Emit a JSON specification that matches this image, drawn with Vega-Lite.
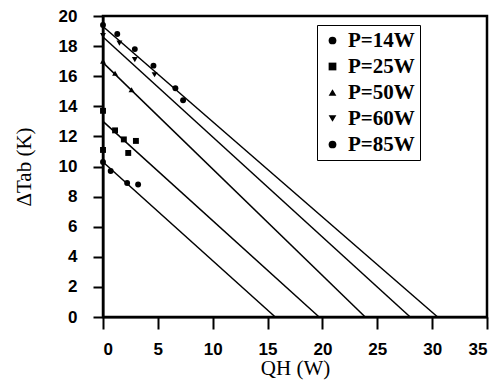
{
  "$schema": "https://vega.github.io/schema/vega-lite/v6.json",
  "autosize": "none",
  "width": 384,
  "height": 301,
  "padding": {"left": 103, "top": 16, "right": 10, "bottom": 74},
  "background": "white",
  "config": {
    "view": {"stroke": "black", "strokeWidth": 2.5},
    "legend": {"strokeColor": "black"}
  },
  "datasets": {
    "pts": [
      {"series": "P=14W", "Q": 0.0, "T": 10.3},
      {"series": "P=14W", "Q": 0.7, "T": 9.7},
      {"series": "P=14W", "Q": 2.2, "T": 8.9},
      {"series": "P=14W", "Q": 3.2, "T": 8.8},
      {"series": "P=25W", "Q": 0.0, "T": 13.7},
      {"series": "P=25W", "Q": 0.0, "T": 11.1},
      {"series": "P=25W", "Q": 1.1, "T": 12.4},
      {"series": "P=25W", "Q": 1.9, "T": 11.8},
      {"series": "P=25W", "Q": 3.0, "T": 11.7},
      {"series": "P=25W", "Q": 2.3, "T": 10.9},
      {"series": "P=50W", "Q": 0.0, "T": 17.0},
      {"series": "P=50W", "Q": 1.1, "T": 16.2},
      {"series": "P=50W", "Q": 2.6, "T": 15.1},
      {"series": "P=60W", "Q": 0.0, "T": 18.7},
      {"series": "P=60W", "Q": 1.5, "T": 18.2},
      {"series": "P=60W", "Q": 2.9, "T": 17.1},
      {"series": "P=60W", "Q": 4.7, "T": 16.1},
      {"series": "P=85W", "Q": 0.0, "T": 19.4},
      {"series": "P=85W", "Q": 1.3, "T": 18.8},
      {"series": "P=85W", "Q": 2.9, "T": 17.8},
      {"series": "P=85W", "Q": 4.6, "T": 16.7},
      {"series": "P=85W", "Q": 6.6, "T": 15.2},
      {"series": "P=85W", "Q": 7.3, "T": 14.4}
    ],
    "fits": [
      {"series": "P=14W", "Q": 0, "T": 10.3},
      {"series": "P=14W", "Q": 15.7, "T": 0},
      {"series": "P=25W", "Q": 0, "T": 13.0},
      {"series": "P=25W", "Q": 19.7, "T": 0},
      {"series": "P=50W", "Q": 0, "T": 16.9},
      {"series": "P=50W", "Q": 23.9, "T": 0},
      {"series": "P=60W", "Q": 0, "T": 18.6},
      {"series": "P=60W", "Q": 28.0, "T": 0},
      {"series": "P=85W", "Q": 0, "T": 19.3},
      {"series": "P=85W", "Q": 30.5, "T": 0}
    ],
    "yticks": [
      {"T": 0}, {"T": 2}, {"T": 4}, {"T": 6}, {"T": 8}, {"T": 10},
      {"T": 12}, {"T": 14}, {"T": 16}, {"T": 18}, {"T": 20}
    ],
    "xticks": [
      {"Q": 0}, {"Q": 5}, {"Q": 10}, {"Q": 15}, {"Q": 20}, {"Q": 25}, {"Q": 30}, {"Q": 35}
    ]
  },
  "encoding": {
    "x": {
      "field": "Q", "type": "quantitative",
      "scale": {"domain": [0, 35], "nice": false},
      "axis": {
        "tickCount": 7, "grid": false, "ticks": true, "labelOverlap": false,
        "domainColor": "black", "domainWidth": 2, "tickColor": "black", "tickWidth": 2, "tickSize": 12,
        "labelFont": "Liberation Sans", "labelFontWeight": "bold", "labelFontSize": 17, "labelColor": "black", "labelPadding": 12,
        "title": "QH (W)", "titleFont": "Liberation Serif", "titleFontWeight": "normal", "titleFontSize": 21, "titleColor": "black", "titlePadding": 0
      }
    },
    "y": {
      "field": "T", "type": "quantitative",
      "scale": {"domain": [0, 20], "nice": false},
      "axis": {
        "tickCount": 10, "grid": false, "ticks": true, "labelOverlap": false,
        "domainColor": "black", "domainWidth": 2, "tickColor": "black", "tickWidth": 2, "tickSize": 10,
        "labelFont": "Liberation Sans", "labelFontWeight": "bold", "labelFontSize": 17, "labelColor": "black", "labelPadding": 16,
        "title": "ΔTab (K)", "titleFont": "Liberation Serif", "titleFontWeight": "normal", "titleFontSize": 21, "titleColor": "black", "titlePadding": 24
      }
    }
  },
  "layer": [
    {
      "data": {"name": "yticks"},
      "mark": {"type": "tick", "orient": "horizontal", "color": "black", "size": 10, "thickness": 2.5, "xOffset": -5, "opacity": 1},
      "encoding": {
        "x": {"datum": 0, "type": "quantitative"}
      }
    },
    {
      "data": {"name": "xticks"},
      "mark": {"type": "tick", "orient": "vertical", "color": "black", "size": 12, "thickness": 2.5, "yOffset": 6, "opacity": 1},
      "encoding": {
        "y": {"datum": 0, "type": "quantitative"}
      }
    },
    {
      "data": {"name": "fits"},
      "mark": {"type": "line", "color": "black", "strokeWidth": 1.5},
      "encoding": {
        "detail": {"field": "series"}
      }
    },
    {
      "data": {"name": "pts"},
      "mark": {"type": "point", "filled": true, "color": "black", "opacity": 1, "size": 35},
      "encoding": {
        "shape": {
          "field": "series", "type": "nominal",
          "scale": {"domain": ["P=14W", "P=25W", "P=50W", "P=60W", "P=85W"], "range": ["circle", "square", "triangle-up", "triangle-down", "circle"]},
          "legend": {
            "title": null,
            "orient": "none",
            "legendX": 214,
            "legendY": 9,
            "fillColor": "white",
            "padding": 5,
            "rowPadding": 4,
            "symbolSize": 60,
            "symbolFillColor": "black",
            "symbolStrokeColor": "black",
            "labelFont": "Liberation Serif",
            "labelFontWeight": "bold",
            "labelFontSize": 21,
            "labelColor": "black",
            "labelOffset": 5
          }
        }
      }
    }
  ]
}
